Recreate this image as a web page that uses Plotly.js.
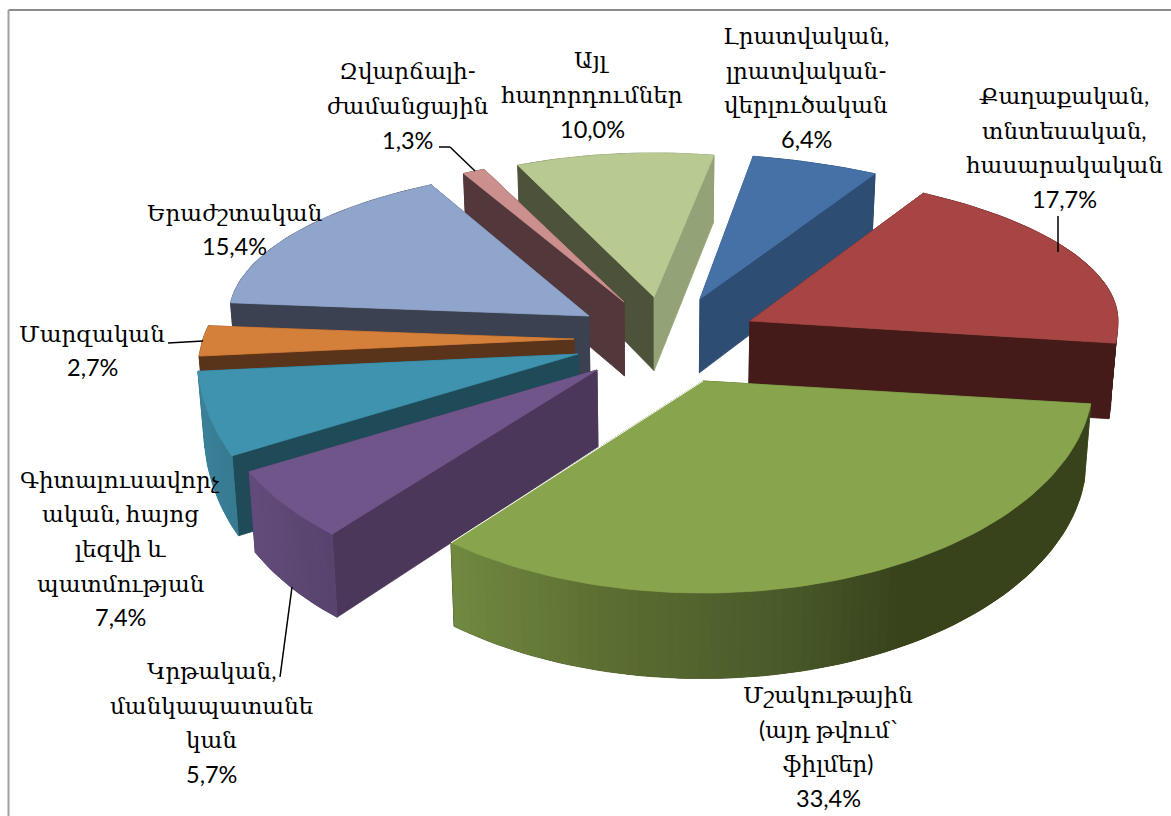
<!DOCTYPE html>
<html><head><meta charset="utf-8">
<script src="https://cdn.plot.ly/plotly-3.0.1.min.js"></script>
<style>html,body{margin:0;padding:0;background:#fff}#c{width:1171px;height:816px}</style>
</head><body><div id="c"></div>
<script>
// ---- data
const categories = [
  "Մշակութային<br>(այդ թվում՝<br>ֆիլմեր)",
  "Կրթական,<br>մանկապատանե<br>կան",
  "Գիտալուսավորչ<br>ական, հայոց<br>լեզվի և<br>պատմության",
  "Մարզական",
  "Երաժշտական",
  "Զվարճալի-<br>ժամանցային",
  "Այլ<br>հաղորդումներ",
  "Լրատվական,<br>լրատվական-<br>վերլուծական",
  "Քաղաքական,<br>տնտեսական,<br>հասարակական"
];
const values = [33.4, 5.7, 7.4, 2.7, 15.4, 1.3, 10.0, 6.4, 17.7];
const topColors = ["#88a44c","#70558a","#3f93ae","#d5803a","#90a5cc","#cb8f8d","#b8ca92","#4571a7","#a64543"];
const startWall = ["#38431c","#4a3759","#1f4a58","#59331a","#3c4151","#52383a","#4c533a","#2e4d72","#451b19"];
const endWall   = ["#38431c","#4a3759","#1f4a58","#59331a","#3c4151","#52383a","#93a377","#2e4d72","#451b19"];
const rimStops  = [
  [[455,"#70883f"],[620,"#5a6c31"],[780,"#4a5a2a"],[900,"#38431c"],[1090,"#38431c"]],
  [[255,"#624b7a"],[340,"#55426b"]],
  [[200,"#3a8199"],[240,"#37788e"]],
  [[190,"#59331a"],[210,"#59331a"]],
  [[230,"#3c4151"],[430,"#3c4151"]],
  [[460,"#52383a"],[490,"#52383a"]],
  [[515,"#4c533a"],[712,"#93a377"]],
  [[750,"#2e4d72"],[875,"#2e4d72"]],
  [[920,"#451b19"],[1120,"#451b19"]]
];
// ---- layout of the exploded, tilted pie (per slice, same order as values)
const apexX = [703,597,578,574,589,624,654,700,750];
const apexY = [381,370,354,339,316,302,297,299,321];
const radiusX = [390,389,381,371,360,347,338,382,368];
const cosPower = [1,0.88,0.76,1,1.07,1,1,1.14,1.1];
const rimSkew = [0,0,0,-0.3,0,0,0,0,0];
const radiusFront = [212,215,215,213,212,212,212,212,212];
const radiusBack = [148,148,148,148,148,145,144,145,148];
const firstAngle = 6;
const warpAt  = [0,126,147,173,183,238,243,279,302,360,366];
const warpBy  = [0,4,5,2,2,4,3,1,-2,0,0];
const paintOrder = [6,7,8,5,4,3,2,1,0];
const labelX = [828,211,120,92,234,407,592,806,1064];
const labelY = [746,722,548,350,229,105,94,87,147];
const lineGap = 34.6;
const textSize = 23, numberSize = 23.5;

function lerp(xs,ys,v){
  if(v<=xs[0])return ys[0];
  for(let i=1;i<xs.length;i++) if(v<=xs[i]) return ys[i-1]+(ys[i]-ys[i-1])*(v-xs[i-1])/(xs[i]-xs[i-1]);
  return ys[ys.length-1];
}
function warp(a){return a+lerp(warpAt,warpBy,a);}
function hex(c){return [1,3,5].map(i=>parseInt(c.substr(i,2),16));}
function rimColor(stops,x){
  const xs=stops.map(s=>s[0]);
  const rgb=[0,1,2].map(k=>Math.round(lerp(xs,stops.map(s=>hex(s[1])[k]),x)));
  return `rgb(${rgb.join(',')})`;
}
function rimPoint(i,a){
  const r=warp(a)*Math.PI/180, s=Math.sin(r), c=Math.cos(r);
  const dy=(s>0?radiusFront[i]:radiusBack[i])*s;
  const dx=Math.sign(c)*radiusX[i]*Math.pow(Math.abs(c),cosPower[i])+rimSkew[i]*dy;
  return [apexX[i]+dx, apexY[i]+dy];
}
function lower(p){ // the same point on the underside of the slab
  return [p[0]+(660-p[0])*0.015, p[1]+68+(p[1]-154)*0.04];
}
function poly(pts,color,w){
  const xs=pts.map(p=>p[0]).concat(pts[0][0]), ys=pts.map(p=>p[1]).concat(pts[0][1]);
  return {type:"scatter",mode:"lines",x:xs,y:ys,fill:"toself",fillcolor:color,
          line:{color:color,width:w===undefined?0.8:w},hoverinfo:"skip",showlegend:false};
}
const total=values.reduce((a,b)=>a+b,0);
let acc=firstAngle; const spans=values.map(v=>{const s=[acc,acc+v/total*360];acc=s[1];return s;});
const traces=[];
paintOrder.forEach(i=>{
  const [a0,a1]=spans[i], n=Math.max(3,Math.ceil((a1-a0)/1.5));
  const rim=[]; for(let k=0;k<=n;k++) rim.push(rimPoint(i,a0+(a1-a0)*k/n));
  const A=[apexX[i],apexY[i]];
  const rimTr=[];
  // one solid rim underlay, then shaded strips that overlap their neighbour
  rimTr.push(poly([...rim,...rim.slice().reverse().map(lower)],rimColor(rimStops[i],(rim[0][0]+rim[n][0])/2),0.8));
  for(let k=0;k<n;k++){
    const e=Math.min(n,k+2);
    const strip=[];
    for(let m=k;m<=e;m++) strip.push(rim[m]);
    for(let m=e;m>=k;m--) strip.push(lower(rim[m]));
    rimTr.push(poly(strip,rimColor(rimStops[i],(rim[k][0]+rim[k+1][0])/2),0));
  }
  const wallS=poly([A,rim[0],lower(rim[0]),lower(A)],startWall[i]);
  const wallE=poly([A,rim[n],lower(rim[n]),lower(A)],endWall[i]);
  if(a0>=180){ traces.push(...rimTr,wallS,wallE);} else { traces.push(wallE,wallS,...rimTr);}
  traces.push(poly([A,...rim],topColors[i]));
  if(i===0){
    traces.push({type:"scatter",mode:"lines",x:[A[0],rim[n][0]],y:[A[1],rim[n][1]],
      line:{color:"#ffffff",width:1},hoverinfo:"skip",showlegend:false});
  }
});
const annotations=[];
categories.forEach((c,i)=>{
  const lines=c.split("<br>").concat(values[i].toFixed(1).replace(".",",")+"%");
  lines.forEach((t,k)=>annotations.push({
    xref:"x",yref:"y",x:labelX[i],y:labelY[i]+(k-(lines.length-1)/2)*lineGap,
    xanchor:"center",yanchor:"middle",align:"center",showarrow:false,text:t,
    font:{size:k===lines.length-1?numberSize:textSize}
  }));
});
const lineSh=(x0,y0,x1,y1)=>({type:"line",xref:"x",yref:"y",x0,y0,x1,y1,line:{color:"#000",width:1.5}});
const shapes=[
  {type:"line",xref:"x",yref:"y",x0:8.5,y0:10,x1:1171,y1:10,line:{color:"#8c8c8c",width:2}},
  {type:"line",xref:"x",yref:"y",x0:8.5,y0:10,x1:8.5,y1:816,line:{color:"#a0a0a0",width:2}},
  lineSh(439,147,450,147),lineSh(450,147,475,171),
  lineSh(1058,216,1058,252),
  lineSh(168,343,203,341),
  lineSh(280,677,292,587)
];
Plotly.newPlot("c",traces,{
  width:1171,height:816,margin:{l:0,r:0,t:0,b:0},paper_bgcolor:"#fff",plot_bgcolor:"#fff",showlegend:false,
  font:{family:"Lato, 'DejaVu Serif', serif",size:23,color:"#000"},
  xaxis:{range:[0,1171],visible:false,fixedrange:true},
  yaxis:{range:[816,0],visible:false,fixedrange:true},
  annotations,shapes
},{displayModeBar:false,staticPlot:true});
</script></body></html>
